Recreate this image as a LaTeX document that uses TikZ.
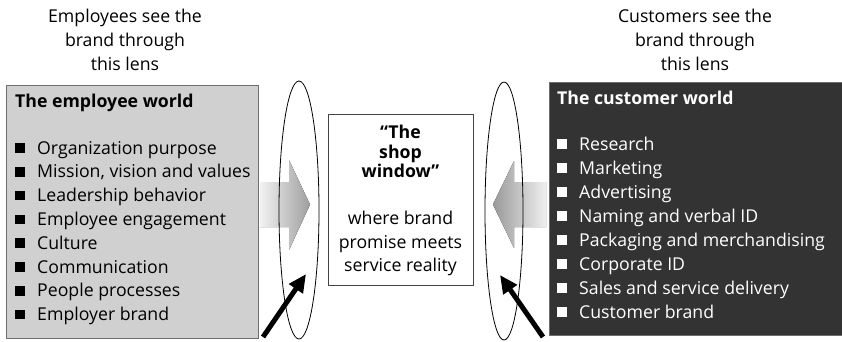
\documentclass[tikz,border=0pt]{standalone}
\usepackage{fontspec}
\setmainfont{Open Sans}
\usetikzlibrary{arrows.meta,shapes.geometric}
\definecolor{lightbox}{HTML}{D0D0D0}
\definecolor{darkbox}{HTML}{333333}
\definecolor{edgegray}{HTML}{6E6E6E}
\definecolor{midedge}{HTML}{454545}
\tikzset{
  txt/.style={anchor=base, inner sep=0pt, font=\fontsize{17.7}{21}\selectfont},
  boldtxt/.style={anchor=base, inner sep=0pt, font=\fontsize{17.7}{21}\selectfont\bfseries},
  item/.style={anchor=base west, inner sep=0pt, font=\fontsize{17.7}{21}\selectfont},
  titletxt/.style={anchor=base west, inner sep=0pt, font=\fontsize{17.7}{21}\selectfont\bfseries},
  bulletbox/.style={rectangle, inner sep=0pt, minimum size=9.5pt},
  worldbox/.style={rectangle, anchor=north west, inner sep=0pt, line width=0.8pt},
  lens/.style={draw=black, ellipse, inner sep=0pt, line width=0.8pt},
  pusharrow/.style={line width=5pt, -{Triangle[length=18pt,width=16pt]}},
}
\begin{document}
\begin{tikzpicture}[x=1pt,y=-1pt]
\useasboundingbox (0,0) rectangle (842,341);

% boxes
\node[worldbox, draw=edgegray, fill=lightbox, minimum width=252pt, minimum height=253pt] (emp) at (6,85) {};
\node[worldbox, draw=edgegray, fill=darkbox, minimum width=293pt, minimum height=253pt] (cust) at (548.5,82) {};
\node[worldbox, draw=midedge, fill=white, minimum width=145pt, minimum height=171pt] (shop) at (328,114) {};

% shaded arrows
\fill[left color=black!5, right color=black!38]
  (260,182) -- (289,182) -- (289,160) -- (310,204.5) -- (289,250) -- (289,227) -- (260,227) -- cycle;
\fill[left color=black!40, right color=black!6]
  (546,182) -- (514,182) -- (514,161) -- (493,204.5) -- (514,248) -- (514,227) -- (546,227) -- cycle;

% lenses
\node[lens, minimum width=40pt, minimum height=258pt] (lensL) at (299,210) {};
\node[lens, minimum width=38pt, minimum height=258pt] (lensR) at (504,211) {};

% top captions
\node[txt] (capL1) at (125,22) {Employees see the};
\node[txt] (capL2) at (125,46) {brand through};
\node[txt] (capL3) at (125,70) {this lens};
\node[txt] (capR1) at (695,22) {Customers see the};
\node[txt] (capR2) at (695,46) {brand through};
\node[txt] (capR3) at (695,70) {this lens};

% employee world
\node[titletxt] (empT) at (15,107) {The employee world};
\foreach \t [count=\i] in {Organization purpose, {Mission, vision and values}, Leadership behavior, Employee engagement, Culture, Communication, People processes, Employer brand}{
  \node[bulletbox, fill=black] (eb\i) at (20,{154+23.8*(\i-1)-6}) {};
  \node[item] (e\i) at (37,{154+23.8*(\i-1)}) {\t};
}

% customer world
\node[titletxt, text=white] (custT) at (557,104) {The customer world};
\foreach \t [count=\i] in {Research, Marketing, Advertising, Naming and verbal ID, Packaging and merchandising, Corporate ID, Sales and service delivery, Customer brand}{
  \node[bulletbox, fill=white] (cb\i) at (562,{150+24*(\i-1)-6}) {};
  \node[item, text=white] (c\i) at (579,{150+24*(\i-1)}) {\t};
}

% shop window
\node[boldtxt] (m1) at (400.5,138) {“The};
\node[boldtxt] (m2) at (400.5,158) {shop};
\node[boldtxt] (m3) at (400.5,177) {window”};
\node[txt] (m4) at (400.5,224) {where brand};
\node[txt] (m5) at (400.5,248) {promise meets};
\node[txt] (m6) at (400.5,271) {service reality};

% black arrows
\coordinate (aL1) at (263,337);
\coordinate (aL2) at (306,274);
\coordinate (aR1) at (543,337);
\coordinate (aR2) at (500,275);
\draw[pusharrow] (aL1) -- (aL2);
\draw[pusharrow] (aR1) -- (aR2);
\end{tikzpicture}
\end{document}
